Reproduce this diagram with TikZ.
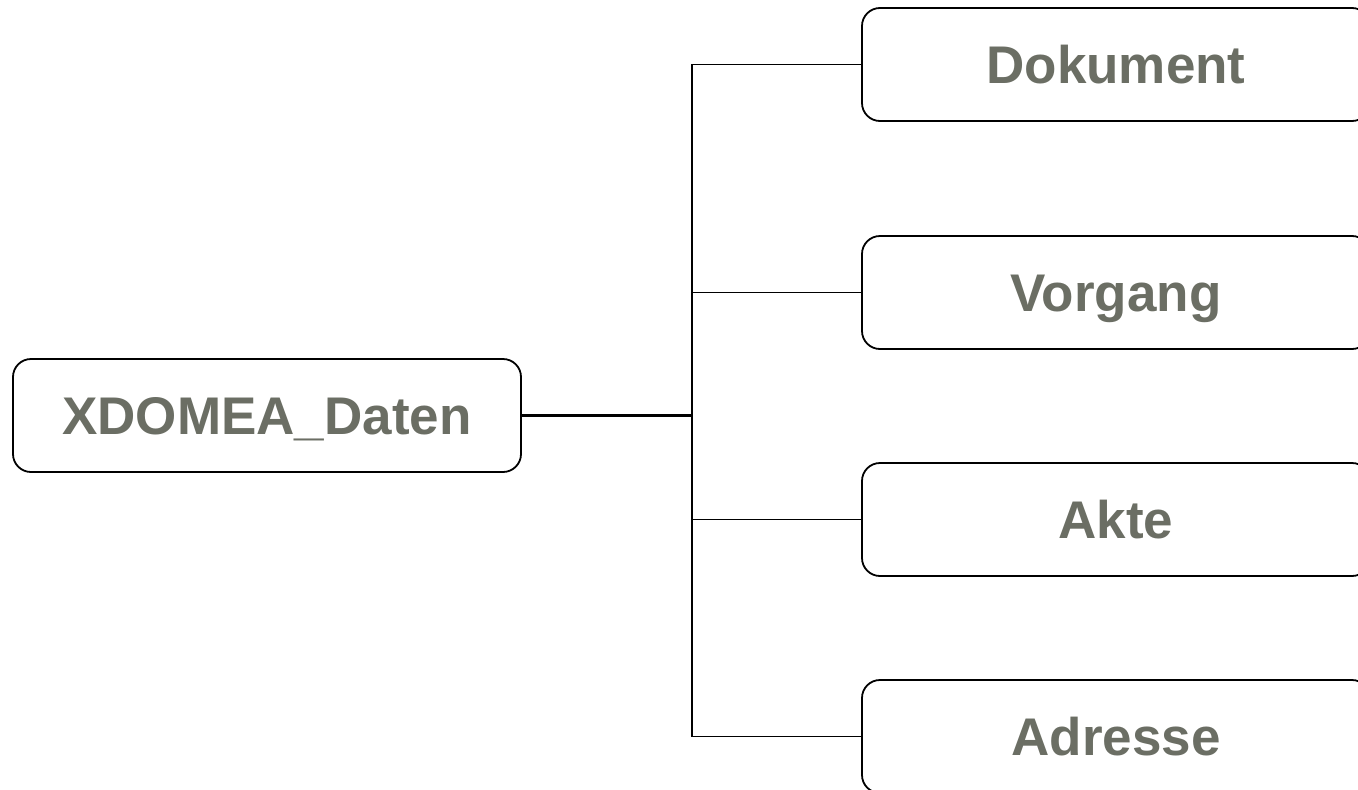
\documentclass[tikz,border=0pt]{standalone}
\usepackage{fontspec}
\setmainfont{Liberation Sans}
\definecolor{txt}{HTML}{6B6E64}
\begin{document}
\begin{tikzpicture}[x=1pt,y=-1pt,
  box/.style={draw=black,line width=1.8pt,rounded corners=18pt,minimum width=508pt,minimum height=113pt,inner sep=0pt,text height=38pt,text depth=0pt,text=txt,font=\fontsize{53}{60}\selectfont\bfseries,anchor=center},
  conn/.style={draw=black,line width=1.4pt}]
\useasboundingbox (0,0) rectangle (1358,790);
\clip (0,0) rectangle (1358,790);
\node[box] (root) at (267,415.5) {XDOMEA\_Daten};
\node[box] (dok) at (1116,64.5) {Dokument};
\node[box] (vor) at (1116,292.5) {Vorgang};
\node[box] (akt) at (1116,519.5) {Akte};
\node[box] (adr) at (1116,736.5) {Adresse};
\coordinate (j) at (692,415.5);
\draw[conn,line width=2.2pt] (root.east) -- (j);
\draw[conn] (dok.west) -| (j) |- (adr.west);
\draw[conn] (vor.west) -- (vor.west -| j);
\draw[conn] (akt.west) -- (akt.west -| j);
\end{tikzpicture}
\end{document}
